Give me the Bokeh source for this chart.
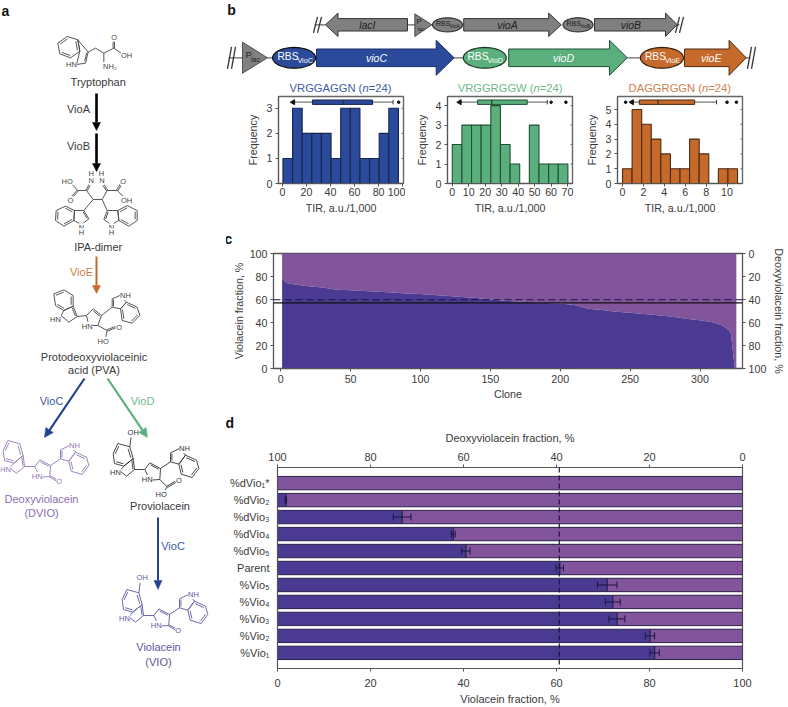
import math
from bokeh.plotting import figure
from bokeh.layouts import column, row
from bokeh.models import Range1d, LinearAxis, FactorRange, Span, FixedTicker
from bokeh.core.properties import value
from bokeh.embed import file_html
from bokeh.resources import INLINE

FONT = "Liberation Sans"
TXT = "#3a3a3a"
VIO = "#4B3A92"; DVIO = "#82549B"
BLUE = "#2B4A9B"; GREEN = "#5BAF7D"; ORANGE = "#C66A2C"; GRAY = "#808080"

# ---------------- data ----------------
hist1_counts = [1, 3, 2, 2, 2, 1, 3, 3, 1, 1, 2, 3]
hist1_first, hist1_bin = 0.5, 8.0
hist1_box = dict(cap_lo=9, q1=25, med=50.5, q3=75, cap_hi=92, arrows=[9], dots=[96.7])
hist2_counts = [2, 3, 3, 3, 4, 2, 1, 0, 3, 1, 1, 1]
hist2_first, hist2_bin = 0.0, 5.85
hist2_box = dict(cap_lo=4.5, q1=15.4, med=24, q3=45.5, cap_hi=57.7, arrows=[4.5], dots=[60, 69])
hist3_counts = [1, 5, 4, 3, 2, 1, 1, 3, 2, 0, 1, 1]
hist3_first, hist3_bin = 0.0, 0.917
hist3_box = dict(cap_lo=0.9, q1=1.6, med=3.4, q3=6.9, cap_hi=9.0, arrows=[0.9], dots=[0.3, 10, 10.9])

clone_ids = [1, 3, 5, 10, 20, 30, 40, 50, 60, 70, 80, 90, 100, 110, 120, 130, 140, 150, 160, 170, 180, 190, 200,
             210, 215, 220, 230, 240, 250, 260, 270, 280, 290, 300, 310, 316, 320, 322, 323, 324, 325, 326]
clone_violacein = [77.6, 76, 74.2, 73, 71.6, 70.5, 68.5, 68, 67.3, 66.8, 66, 65.3, 64.7, 63.9, 63, 62.2, 61.3, 60,
                   59, 58.2, 57.6, 57, 56.5, 55.3, 53.6, 52, 50.8, 49.3, 48.4, 47.3, 46.2, 45, 43.3, 42, 40, 37.5,
                   34, 31, 21, 10, 0, 0]
parent_line = 57.0
dashed_line = 59.8

strains = ["%dVio₁*", "%dVio₂", "%dVio₃", "%dVio₄", "%dVio₅", "Parent", "%Vio₅", "%Vio₄", "%Vio₃", "%Vio₂", "%Vio₁"]
strain_vio = [0, 1.8, 26.8, 37.8, 40.5, 60.7, 70.9, 72.1, 73.0, 80.1, 81.1]
strain_err = [0, 0.15, 1.9, 0.4, 0.9, 0.8, 2.1, 1.6, 1.7, 1.0, 1.0]
parent_mean = 60.6

# ---------------- diagram figures (page pixels) ----------------
LEFT_W = 226
GENE_H = 95

def canvas(x0, x1, y0, y1):
    p = figure(width=x1 - x0, height=y1 - y0, x_range=Range1d(x0, x1),
               y_range=Range1d(y1, y0), x_axis_type=None, y_axis_type=None, toolbar_location=None,
               output_backend="svg", min_border=0, outline_line_color=None, frame_align=False)
    p.grid.visible = False
    return p

left_fig = canvas(0, LEFT_W, 0, 707)
gene_fig = canvas(LEFT_W, 788, 0, GENE_H)
base = left_fig

def txt(p, x, y, s, size=11, color=TXT, align="center", style="normal", bg=None, font=FONT):
    kw = {}
    if bg:
        kw["background_fill_color"] = bg
    p.text([x], [y], text=[s], text_font=value(font), text_font_size=f"{size}px", text_color=color,
           text_align=align, text_baseline="middle", text_font_style=style, **kw)

def lines(segs, color, width=0.9):
    base.multi_line([[a[0] for a in s] for s in segs], [[a[1] for a in s] for s in segs],
                    line_color=color, line_width=width)

def arrow(x0, y0, x1, y1, color, width=2.6, hw=8, hl=8):
    L = math.hypot(x1 - x0, y1 - y0); ux, uy = (x1 - x0) / L, (y1 - y0) / L
    bx, by = x1 - ux * hl, y1 - uy * hl
    base.line([x0, bx], [y0, by], line_color=color, line_width=width)
    base.patch([x1, bx - uy * hw / 2, bx + uy * hw / 2], [y1, by + ux * hw / 2, by - ux * hw / 2], fill_color=color, line_color=color, line_width=0.5)

def molecule(rings, bonds, doubles, labels, color, ox=0, oy=0, lab_size=7.5):
    T = lambda q: ((q[0] + ox) / 3, (q[1] + oy) / 3)
    segs = []
    for r, dbl in rings:
        pts = [T(q) for q in r]
        segs.append(pts + [pts[0]])
        cx = sum(q[0] for q in pts) / len(pts); cy = sum(q[1] for q in pts) / len(pts)
        for i in dbl:
            a, b = pts[i], pts[(i + 1) % len(pts)]
            A = (a[0] + (cx - a[0]) * 0.22, a[1] + (cy - a[1]) * 0.22)
            B = (b[0] + (cx - b[0]) * 0.22, b[1] + (cy - b[1]) * 0.22)
            segs.append([A, B])
    for b in bonds:
        segs.append([T(q) for q in b])
    for a, b in doubles:
        a, b = T(a), T(b)
        dx, dy = b[0] - a[0], b[1] - a[1]; L = math.hypot(dx, dy)
        nx, ny = -dy / L * 0.7, dx / L * 0.7
        segs.append([(a[0] + nx, a[1] + ny), (b[0] + nx, b[1] + ny)])
        segs.append([(a[0] - nx, a[1] - ny), (b[0] - nx, b[1] - ny)])
    lines(segs, color)
    for (x, y, s) in labels:
        q = T((x, y))
        txt(base, q[0], q[1], s, size=lab_size, color=color, bg="white")

# Tryptophan
molecule([([(172, 128), (200, 108), (232, 118), (238, 152), (210, 172), (178, 160)], [0, 2, 4]),
          ([(232, 118), (263, 155), (255, 188), (228, 192), (238, 152)], [1])],
         [[(263, 155), (285, 143), (310, 158), (340, 143)], [(340, 143), (362, 158)], [(310, 158), (310, 185)]],
         [((340, 143), (340, 115))],
         [(341, 110, "O"), (378, 165, "OH"), (328, 198, "NH₂"), (213, 193, "HN")], "#444")
txt(base, 97.7, 81.7, "Tryptophan")
arrow(96, 93, 96, 130, "#000", width=2.6, hw=8, hl=8)
arrow(96, 133, 96, 171, "#000", width=2.6, hw=8, hl=8)
txt(base, 78, 108.5, "VioA"); txt(base, 78, 145.5, "VioB")

# IPA-dimer
molecule([([(222, 630), (195, 617), (167, 630), (165, 660), (190, 677), (220, 660)], [0, 2, 4]),
          ([(250, 630), (265, 655), (243, 672), (220, 660), (222, 630)], [0]),
          ([(352, 630), (380, 615), (410, 630), (410, 660), (385, 677), (355, 660)], [0, 2, 4]),
          ([(320, 630), (310, 657), (333, 673), (355, 660), (352, 630)], [0])],
         [[(232, 570), (258, 570), (278, 597), (305, 597), (320, 570), (350, 570)], [(278, 597), (250, 630)],
          [(305, 597), (320, 630)], [(232, 570), (212, 548)], [(350, 570), (370, 590)]],
         [((258, 570), (270, 548)), ((320, 570), (305, 548)), ((232, 570), (212, 592)), ((350, 570), (364, 548))],
         [(200, 542, "HO"), (210, 600, "O"), (368, 542, "O"), (378, 600, "OH"), (272, 541, "N"), (304, 541, "N"),
          (272, 520, "H"), (303, 520, "H"), (243, 682, "N"), (243, 697, "H"), (333, 682, "N"), (333, 697, "H")], "#444")
txt(base, 97.7, 246.7, "IPA-dimer")
arrow(96, 256, 96, 293, ORANGE, width=2.0, hw=8, hl=8)
txt(base, 81, 271.5, "VioE", color="#C97E4A")

# PVA
molecule([([(160, 880), (190, 868), (218, 885), (218, 917), (190, 930), (165, 915)], [0, 2, 4]),
          ([(218, 917), (230, 948), (205, 965), (182, 945), (190, 930)], [0]),
          ([(258, 945), (278, 925), (303, 945), (292, 975), (265, 975)], [1]),
          ([(335, 920), (335, 895), (358, 885), (378, 905), (360, 925)], [0]),
          ([(378, 905), (410, 920), (418, 945), (395, 968), (365, 960), (360, 925)], [0, 2, 4])],
         [[(230, 948), (258, 945)], [(303, 945), (335, 920)], [(292, 975), (320, 990)], [(320, 990), (316, 1010)]],
         [((320, 990), (345, 980))],
         [(165, 957, "HN"), (260, 977, "HN"), (375, 885, "NH"), (356, 980, "O"), (308, 1023, "HO")], "#444")
txt(base, 93.5, 356, "Protodeoxyviolaceinic")
txt(base, 93.5, 369.3, "acid (PVA)")
arrow(84, 378, 44, 437, "#24448F", width=2.2, hw=9, hl=9)
arrow(107, 378, 147, 437, "#5BAF7D", width=2.2, hw=9, hl=9)
txt(base, 51, 400, "VioC", color="#3A5BA5"); txt(base, 142, 400, "VioD", color="#6DB88C")

# Violacein-type skeleton, in one molecule's coordinates
benzL = [(8, 300), (22, 270), (58, 280), (68, 315), (40, 338), (12, 330)]
pentL = [(68, 315), (72, 348), (48, 368), (28, 352), (40, 338)]
pyrr = [(103, 348), (118, 328), (150, 345), (148, 378), (118, 380)]
pentR = [(180, 325), (180, 298), (207, 285), (225, 305), (205, 332)]
benzR = [(225, 305), (258, 320), (265, 345), (245, 372), (212, 362), (205, 332)]
common = [[(72, 348), (103, 348)], [(150, 345), (180, 325)]]
rings = [(benzL, [0, 2, 4]), (pentL, [0]), (pyrr, [1]), (pentR, [0]), (benzR, [0, 2, 4])]
DV_C = "#9277B5"; V_C = "#5B58A0"
# DVIO
molecule(rings, common, [((148, 378), (170, 390))],
         [(15, 358, "HN"), (110, 378, "HN"), (222, 285, "NH"), (176, 393, "O")], DV_C, 0, 350 * 3)
txt(base, 41, 498.5, "Deoxyviolacein", color="#8E6DB0"); txt(base, 41, 512.5, "(DVIO)", color="#8E6DB0")
# Proviolacein
molecule(rings, common + [[(58, 280), (62, 250)], [(148, 378), (170, 400)], [(170, 400), (160, 415)]],
         [((170, 400), (195, 385))],
         [(15, 358, "HN"), (110, 378, "HN"), (222, 285, "NH"), (205, 381, "O"), (152, 423, "HO"), (68, 238, "OH")],
         "#333", 330, 350 * 3 + 9)
txt(base, 159.5, 505.7, "Proviolacein")
arrow(157.5, 517, 157.5, 589, "#24448F", width=2.0, hw=8, hl=9)
txt(base, 172.5, 545, "VioC", color="#3A5BA5")
# Violacein
molecule(rings, common + [[(58, 280), (62, 250)]], [((148, 378), (170, 390))],
         [(15, 358, "HN"), (110, 378, "HN"), (222, 285, "NH"), (176, 393, "O"), (68, 235, "OH")],
         V_C, 357, 350 * 3 + 447)
txt(base, 158, 646.7, "Violacein", color=V_C); txt(base, 158, 661, "(VIO)", color=V_C)

LET = dict(size=14, color="#111", style="bold")
txt(left_fig, 5, 10, "a", **LET)

# ------ gene map
base = gene_fig
txt(gene_fig, 231, 9, "b", **LET)

def gene(x0, x1, tip, yc, hb, hh, direction, fill, line):
    if direction > 0:
        xs = [x0, x1, x1, tip, x1, x1, x0]
    else:
        xs = [x1, x0, x0, tip, x0, x0, x1]
    ys = [yc - hb, yc - hb, yc - hh, yc, yc + hh, yc + hb, yc + hb]
    base.patch(xs, ys, fill_color=fill, line_color=line, line_width=1.0)

def rbs(cx, cy, w, h, fill, line, sub, color, s1, s2, x_start):
    th = [k * math.pi / 24 for k in range(48)]
    base.patch([cx + w / 2 * math.cos(t) for t in th], [cy + h / 2 * math.sin(t) for t in th],
               fill_color=fill, line_color=line, line_width=1.2)
    txt(base, x_start, cy - 1, "RBS", size=s1, color=color, align="left")
    txt(base, x_start + s1 * 1.95, cy + s1 * 0.25, sub, size=s2, color=color, align="left")

def slashes(x, yc, h, dx=4):
    segs = [[(x - 2, yc + h), (x + 2, yc - h)], [(x - 2 + dx, yc + h), (x + 2 + dx, yc - h)]]
    lines(segs, "#333", 1.3)

Y1, Y2 = 24.3, 57.3
lines([[(314, Y1), (325, Y1)], [(407, Y1), (414.5, Y1)], [(431, Y1), (432, Y1)], [(676, Y1), (679, Y1)],
       [(228, Y2), (242, Y2)], [(267, Y2), (272, Y2)], [(453, Y2), (463, Y2)], [(627, Y2), (640, Y2)], [(745, Y2), (750, Y2)]], "#666", 1.2)
slashes(315, Y1, 8); slashes(677, Y1, 8); slashes(229, Y2, 11); slashes(749, Y2, 11)
gene(337.5, 407, 325, Y1, 6.2, 11.7, -1, GRAY, "#333")
gene(463.2, 548.2, 560.7, Y1, 6.2, 11.7, 1, GRAY, "#333")
gene(594, 665, 676.8, Y1, 6.2, 11.7, 1, GRAY, "#333")
gene(316, 435.7, 453.6, Y2, 8.8, 17.5, 1, BLUE, "#1c2f66")
gene(508.2, 609, 626.8, Y2, 8.8, 17.5, 1, GREEN, "#1f4f35")
gene(684, 728.6, 745.7, Y2, 8.8, 17.5, 1, ORANGE, "#4a2a10")
base.patch([414.3, 431.4, 414.3], [13.3, Y1, 36], fill_color=GRAY, line_color="#333", line_width=0.8)
base.patch([242, 267, 242], [41.7, Y2, 72.7], fill_color=GRAY, line_color="#333", line_width=0.8)
txt(base, 416, Y1 - 3, "P", size=8, color="#222", align="left"); txt(base, 417, Y1 + 4.5, "lac", size=5.5, color="#222", align="left")
txt(base, 245, Y2 - 3.5, "P", size=9.5, color="#222", align="left"); txt(base, 250.5, Y2 + 1.5, "lac", size=7, color="#222", align="left")
rbs(447, Y1, 30, 14, GRAY, "#333", "VioA", "#222", 7, 4.8, 435.5)
rbs(577.5, Y1, 30, 14, GRAY, "#333", "VioB", "#222", 7, 4.8, 566)
rbs(293.6, Y2, 43, 20.7, BLUE, "#111", "VioC", "white", 10.2, 7.2, 277)
rbs(484.3, Y2, 43, 20.7, GREEN, "#1c3b28", "VioD", "white", 10.2, 7.2, 467)
rbs(661.4, Y2, 43, 20.7, ORANGE, "#3a2008", "VioE", "white", 10.2, 7.2, 644.5)
for x, y, s, col in [(366.8, Y1, "lacI", "#222"), (507, Y1, "vioA", "#222"), (630.4, Y1, "vioB", "#222"),
                     (376, Y2, "vioC", "white"), (563, Y2, "vioD", "white"), (710.7, Y2, "vioE", "white")]:
    txt(base, x, y, s, size=10.5, color=col, style="italic")

EM = dict(V=.667, R=.722, G=.778, A=.667, N=.722, W=.944, D=.722)
def title(center, name, color, size=11.2):
    w1 = (sum(EM[ch] for ch in name) + .278 + .333) * size
    total = w1 + 2.585 * size
    x = center - total / 2
    txt(base, x, 87.3, name + " (", size=size, color=color, align="left")
    txt(base, x + w1, 87.3, "n", size=size, color=color, align="left", style="italic")
    txt(base, x + w1 + .556 * size, 87.3, "=24)", size=size, color=color, align="left")
title(340, "VRGGAGGN", "#3E5BA8"); title(509.6, "VRGGRGGW", "#6DB88C"); title(679.3, "DAGGRGGN", "#CC8250")

# ---------------- real plots ----------------
def framed(x0, x1, y0, y1, fx0, fx1, fy0, fy1, **kw):
    p = figure(width=x1 - x0, height=y1 - y0, toolbar_location=None, output_backend="svg", min_border_left=fx0 - x0,
               min_border_right=x1 - fx1, min_border_top=fy0 - y0, min_border_bottom=y1 - fy1, frame_align=False, **kw)
    p.grid.visible = False
    return p

def style_axis(a, size=10.7, standoff=3, lcolor="#555"):
    a.major_label_text_font = FONT; a.major_label_text_font_size = f"{size}px"; a.major_label_text_color = TXT
    a.axis_label_text_font = FONT; a.axis_label_text_font_size = f"{size}px"; a.axis_label_text_color = TXT
    a.axis_label_text_font_style = "normal"
    a.major_label_standoff = standoff
    a.minor_tick_line_color = None
    a.axis_line_color = lcolor; a.major_tick_line_color = lcolor
    a.major_tick_out = 3; a.major_tick_in = 0

def histogram(counts, first, step, box, cell, fr, xr, yr, xt, yt, fill, line):
    fx0, fy0, fx1, fy1 = fr
    p = framed(cell[0], cell[1], GENE_H, 222, fx0, fx1, fy0, fy1, x_range=Range1d(*xr), y_range=Range1d(*yr))
    edges = [first + i * step for i in range(len(counts) + 1)]
    p.quad(left=edges[:-1], right=edges[1:], top=counts, bottom=0, fill_color=fill, line_color=line, line_width=1.1)
    yscale = (fy1 - fy0) / (yr[1] - yr[0])
    yb = (fy1 - 101.7) / yscale; hh = 2.2 / yscale
    p.segment([box["cap_lo"]], [yb], [box["cap_hi"]], [yb], line_color="#777", line_width=1.2)
    p.segment([box["cap_hi"]], [yb - hh], [box["cap_hi"]], [yb + hh], line_color="#333", line_width=1)
    p.quad(left=[box["q1"]], right=[box["q3"]], top=[yb + hh], bottom=[yb - hh], fill_color=fill, line_color=line, line_width=1)
    p.segment([box["med"]], [yb - hh], [box["med"]], [yb + hh], line_color="#222", line_width=1)
    p.scatter(box["arrows"], [yb] * len(box["arrows"]), marker="triangle", angle=math.pi / 2, size=5, color="#111")
    p.scatter(box["dots"], [yb] * len(box["dots"]), marker="circle", size=2.6, color="#111")
    p.outline_line_color = "#666"; p.outline_line_width = 1.4
    style_axis(p.xaxis[0], standoff=1); style_axis(p.yaxis[0])
    p.xaxis[0].ticker = FixedTicker(ticks=xt); p.yaxis[0].ticker = FixedTicker(ticks=yt)
    p.xaxis[0].axis_label = "TIR, a.u./1,000"; p.yaxis[0].axis_label = "Frequency"
    p.xaxis[0].axis_label_standoff = 3; p.yaxis[0].axis_label_standoff = 5
    p.yaxis[0].major_label_orientation = "horizontal"
    p.segment([xr[1]] * len(yt), yt, [xr[1] - 2 * (xr[1] - xr[0]) / (fx1 - fx0)] * len(yt), yt, line_color="#666", line_width=1)
    return p

h1 = histogram(hist1_counts, hist1_first, hist1_bin, hist1_box, (LEFT_W, 405), (278, 96, 403, 183), (-3.2, 100.7), (0, 3.47),
               [0, 20, 40, 60, 80, 100], [0, 1, 2, 3], BLUE, "#16244f")
h2 = histogram(hist2_counts, hist2_first, hist2_bin, hist2_box, (405, 575), (447, 96, 572, 183), (-2.9, 73), (0, 4.47),
               [0, 10, 20, 30, 40, 50, 60, 70], [0, 1, 2, 3, 4], GREEN, "#1f4f35")
h3 = histogram(hist3_counts, hist3_first, hist3_bin, hist3_box, (575, 788), (617, 96, 742, 183), (-0.48, 11.48), (0, 5.88),
               [0, 2, 4, 6, 8, 10], [0, 1, 2, 3, 4, 5], ORANGE, "#4a2a10")

def letter(p, s, offset, standoff):
    p.title.text = s
    p.title.offset = offset
    p.title.standoff = standoff
    p.title.text_font = FONT; p.title.text_font_size = "14px"; p.title.text_font_style = "bold"; p.title.text_color = "#111"

# ------ panel c
c = framed(LEFT_W, 788, 222, 412, 273, 743, 252, 368, x_range=Range1d(-5.14, 330.4), y_range=Range1d(0, 100))
c.extra_y_ranges["deoxy"] = Range1d(100, 0)
c.varea(x=clone_ids, y1=clone_violacein, y2=[100] * len(clone_ids), fill_color=DVIO)
c.varea(x=clone_ids, y1=[0] * len(clone_ids), y2=clone_violacein, fill_color=VIO)
c.add_layout(Span(location=parent_line, dimension="width", line_color="#111", line_width=1.2))
c.add_layout(Span(location=dashed_line, dimension="width", line_color="#1b1540", line_width=1.2, line_dash="7 4"))
c.outline_line_color = "#555"; c.outline_line_width = 1.3
style_axis(c.xaxis[0]); style_axis(c.yaxis[0])
c.xaxis[0].ticker = FixedTicker(ticks=[0, 50, 100, 150, 200, 250, 300])
c.yaxis[0].ticker = FixedTicker(ticks=[0, 20, 40, 60, 80, 100])
c.xaxis[0].axis_label = "Clone"; c.yaxis[0].axis_label = "Violacein fraction, %"
c.xaxis[0].axis_label_standoff = 2; c.yaxis[0].axis_label_standoff = 2
c_right = LinearAxis(y_range_name="deoxy", ticker=FixedTicker(ticks=[0, 20, 40, 60, 80, 100]), axis_label="Deoxyviolacein fraction, %")
style_axis(c_right)
c_right.axis_label_standoff = 4
c.add_layout(c_right, "right")
letter(c, "c", -49, 13)

# ------ panel d
d = framed(LEFT_W, 788, 412, 707, 276, 742, 467, 673, x_range=Range1d(0, 100),
           y_range=FactorRange(factors=list(reversed(strains)), range_padding=0.84 / 11, range_padding_units="percent"))
d.extra_x_ranges["deoxy"] = Range1d(100, 0)
d.hbar(y=strains, left=strain_vio, right=[100] * len(strains), height=0.787, fill_color=DVIO, line_color="#2c2148", line_width=1.0)
d.hbar(y=strains, left=[0] * len(strains), right=strain_vio, height=0.787, fill_color=VIO, line_color="#2c2148", line_width=1.0)
idx = [i for i, e in enumerate(strain_err) if e > 0]
ys = [strains[i] for i in idx]
lo = [strain_vio[i] - strain_err[i] for i in idx]; hi = [strain_vio[i] + strain_err[i] for i in idx]
d.segment(x0=lo, y0=ys, x1=hi, y1=ys, line_color="#1b1540", line_width=1.0)
d.scatter(lo + hi, ys + ys, marker="dash", angle=math.pi / 2, size=7, line_color="#1b1540", line_width=1.0)
d.add_layout(Span(location=parent_mean, dimension="height", line_color="#1b1540", line_width=1.2, line_dash="5 3"))
d.outline_line_color = "#555"; d.outline_line_width = 1.2
style_axis(d.xaxis[0], size=11, standoff=7); style_axis(d.yaxis[0], size=11)
d.xaxis[0].ticker = FixedTicker(ticks=[0, 20, 40, 60, 80, 100])
d.xaxis[0].axis_label = "Violacein fraction, %"; d.xaxis[0].axis_label_standoff = 3
d.yaxis[0].major_tick_line_color = None; d.yaxis[0].major_label_standoff = 5
d_top = LinearAxis(x_range_name="deoxy", ticker=FixedTicker(ticks=[0, 20, 40, 60, 80, 100]), axis_label="Deoxyviolacein fraction, %")
style_axis(d_top, size=11, standoff=4)
d_top.axis_label_standoff = 6
d.add_layout(d_top, "above")
letter(d, "d", -52, -4)

# ---------------- page ----------------
right_col = column(gene_fig, row(h1, h2, h3, spacing=0), c, d, spacing=0)
root = row(left_fig, right_col, spacing=0, margin=(0, 0, 0, 0))
open("out.html", "w").write(file_html(root, INLINE))
